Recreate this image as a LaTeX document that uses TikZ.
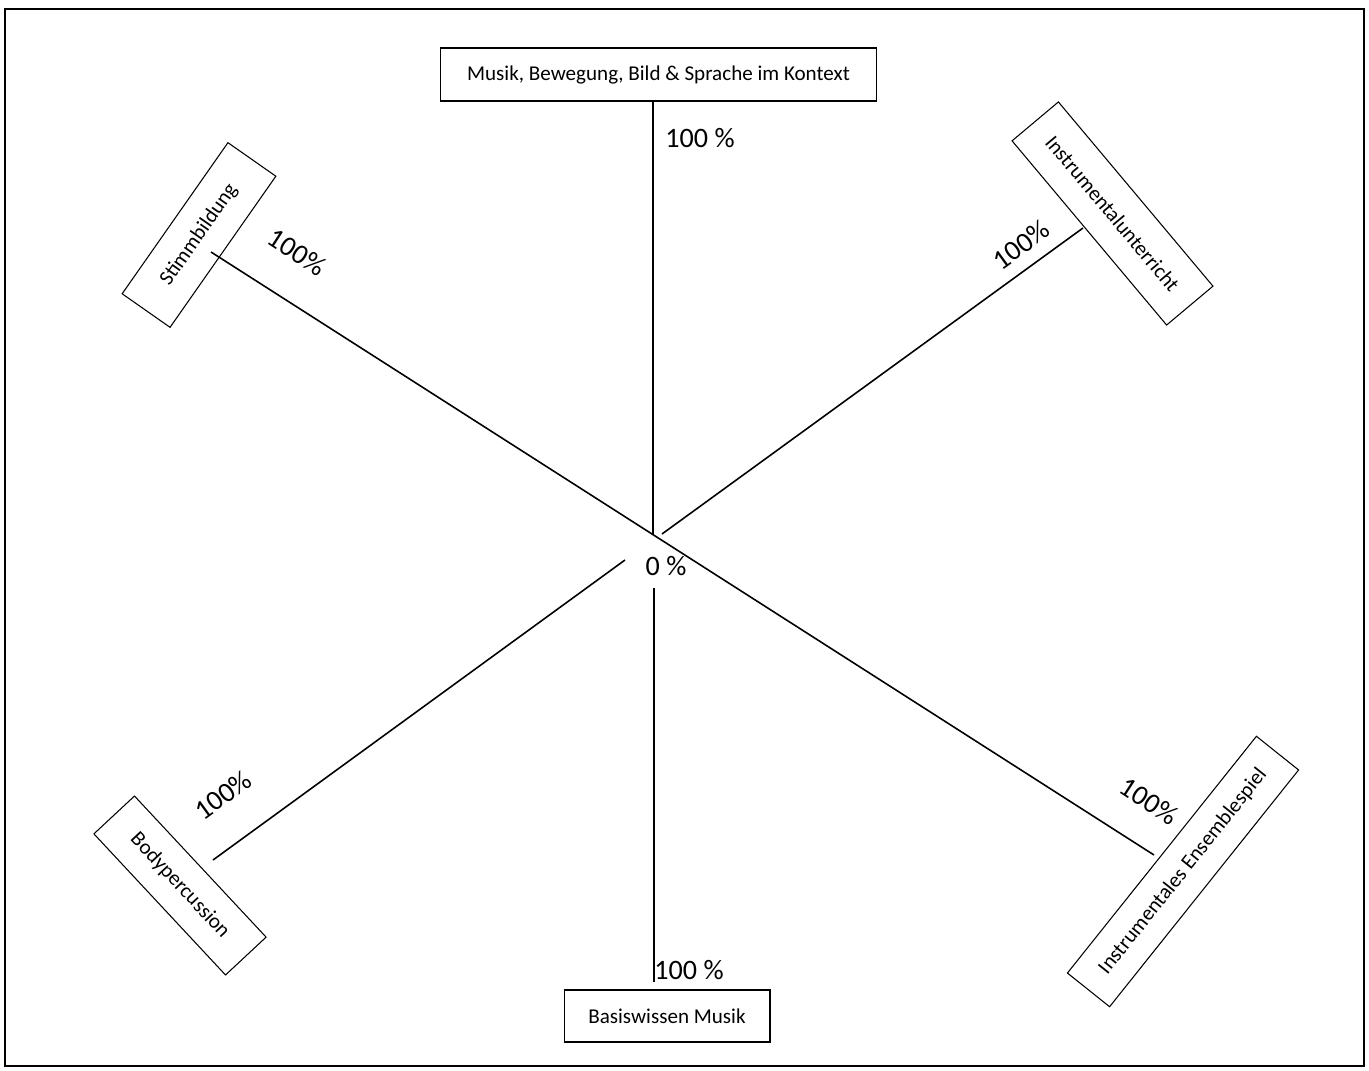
\documentclass[tikz,border=0pt]{standalone}
\usepackage{fontspec}
\setmainfont{Carlito}
\usetikzlibrary{positioning}

\begin{document}
\begin{tikzpicture}[
    x=0.02cm, y=-0.02cm,
    frame/.style={draw=black,line width=1.4pt},
    box/.style={rectangle,draw=black,fill=white,line width=0.6pt,inner sep=0pt,
                font=\fontsize{12}{14}\selectfont},
    spoke/.style={draw=black,line width=0.9pt},
    thinspoke/.style={draw=black,line width=0.6pt},
    pct/.style={inner sep=0pt,font=\fontsize{16}{19}\selectfont}
]

    \useasboundingbox (0,0) rectangle (1369,1071);
    \draw[frame] (5,9) rectangle (1364,1066);

    % topic boxes
    \node[box, minimum width=8.74cm, minimum height=1.06cm] (kontext)
        at (658.5,74.5) {Musik, Bewegung, Bild \& Sprache im Kontext};
    \node[box, minimum width=4.12cm, minimum height=1.04cm] (basis)
        at (667,1016) {Basiswissen Musik};
    \node[box, minimum width=3.69cm, minimum height=1.17cm, rotate=55] (stimm)
        at (199,235) {Stimmbildung};
    \node[box, minimum width=4.81cm, minimum height=1.21cm, rotate=-50] (instr)
        at (1112.5,213.5) {Instrumentalunterricht};
    \node[box, minimum width=3.86cm, minimum height=1.11cm, rotate=-47] (body)
        at (180,885.5) {Bodypercussion};
    \node[box, minimum width=6.06cm, minimum height=1.08cm, rotate=51.4] (ensemble)
        at (1183,871.5) {Instrumentales Ensemblespiel};

    % free ends of the spokes
    \coordinate (kontext-in) at (653,535);
    \coordinate (basis-in) at (654,588);
    \coordinate (basis-out) at (654,982);
    \coordinate (stimm-out) at (211,252);
    \coordinate (ensemble-out) at (1154,855);
    \coordinate (instr-out) at (1083,228);
    \coordinate (instr-in) at (662,534);
    \coordinate (body-out) at (213,860);
    \coordinate (body-in) at (625,560);

    % spokes
    \draw[thinspoke] (kontext.south -| kontext-in) -- (kontext-in);
    \draw[thinspoke] (basis-in) -- (basis-out);
    \draw[spoke] (stimm-out) -- (ensemble-out);
    \draw[spoke] (instr-out) -- (instr-in);
    \draw[spoke] (body-out) -- (body-in);

    % scale labels
    \node[pct] (null) at (666,566) {0 \%};
    \node[pct] (kontext-pct) at (700,138) {100 \%};
    \node[pct] (basis-pct) at (689,970) {100 \%};
    \node[pct, rotate=-33] (stimm-pct) at (297,252) {100\%};
    \node[pct, rotate=36] (instr-pct) at (1021,245) {100\%};
    \node[pct, rotate=36] (body-pct) at (223,795) {100\%};
    \node[pct, rotate=-33] (ensemble-pct) at (1149,801) {100\%};

\end{tikzpicture}
\end{document}
